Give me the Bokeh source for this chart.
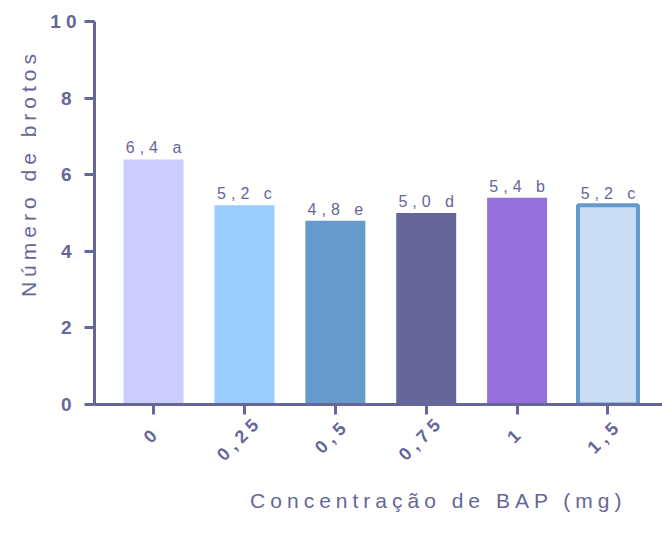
import math
from bokeh.plotting import figure
from bokeh.models import Range1d, ColumnDataSource, FixedTicker, Title
from bokeh.core.properties import value
from bokeh.embed import file_html
from bokeh.resources import INLINE

categories = ["0", "0,25", "0,5", "0,75", "1", "1,5"]
values = [6.4, 5.2, 4.8, 5.0, 5.4, 5.2]
labels = ["6,4 a", "5,2 c", "4,8 e", "5,0 d", "5,4 b", "5,2 c"]
fills = ["#CCCCFF", "#99CCFF", "#6699CC", "#666699", "#9370DB", "#C9DDF6"]
edges = ["#CCCCFF", "#99CCFF", "#6699CC", "#666699", "#9370DB", "#6699CC"]
edge_w = [0, 0, 0, 0, 0, 4]
yticks = [0, 2, 4, 6, 8, 10]
xtitle = "Concentração de BAP (mg)"
ytitle = "Número de brotos"

AX = "#666699"
FONT = "Liberation Sans"
LS = 5.0            # letter spacing in px (CSS, inherited into the SVG)

X0, X1 = -0.65, 5.6
Y0, Y1 = 0, 10

xs = list(range(len(categories)))
src = ColumnDataSource(dict(
    x=xs, top=values, lab=labels, fill=fills, edge=edges, lw=edge_w,
    xo=[-(len(s) - 1) * LS / 2 for s in labels],
))

p = figure(width=662, height=534, output_backend="svg", toolbar_location=None,
           x_range=Range1d(X0, X1), y_range=Range1d(Y0, Y1),
           min_border_left=94, min_border_right=0, min_border_top=21, min_border_bottom=130)
p.outline_line_color = None
p.grid.grid_line_color = None
p.background_fill_color = "white"
p.styles = {"letter-spacing": f"{LS}px"}

p.vbar(x="x", top="top", bottom=0, width=0.66, fill_color="fill", line_color="edge",
       line_width="lw", source=src)
p.text(x="x", y="top", text="lab", source=src, text_align="center", text_baseline="bottom",
       x_offset="xo", y_offset=-3, text_font=value(FONT), text_font_size="16px", text_color=AX)

xa = p.xaxis[0]
xa.ticker = FixedTicker(ticks=xs)
xa.major_label_overrides = {i: c for i, c in enumerate(categories)}
xa.major_label_orientation = math.pi / 4
xa.major_label_text_font_size = "18px"
xa.major_label_standoff = 18

ya = p.yaxis[0]
ya.ticker = FixedTicker(ticks=yticks)
ya.major_label_text_font_size = "19px"
ya.major_label_standoff = 13

for ax in (xa, ya):
    ax.axis_line_color = AX
    ax.axis_line_width = 3
    ax.major_tick_line_color = AX
    ax.major_tick_line_width = 3
    ax.major_tick_out = 10
    ax.major_tick_in = 0
    ax.minor_tick_line_color = None
    ax.major_label_text_color = AX
    ax.major_label_text_font = FONT
    ax.major_label_text_font_style = "bold"

# axis titles as side-panel titles (offset compensates the letter spacing)
p.add_layout(Title(text=xtitle, align="center", offset=-(len(xtitle) - 1) * LS / 2,
                   standoff=34, text_font=FONT, text_font_size="21px",
                   text_font_style="normal", text_color=AX), "below")
p.add_layout(Title(text=ytitle, align="center", offset=-(3.5 + (len(ytitle) - 1) * LS / 2),
                   standoff=15, text_font=FONT, text_font_size="21px",
                   text_font_style="normal", text_color=AX), "left")

open("out.html", "w").write(file_html(p, INLINE))
